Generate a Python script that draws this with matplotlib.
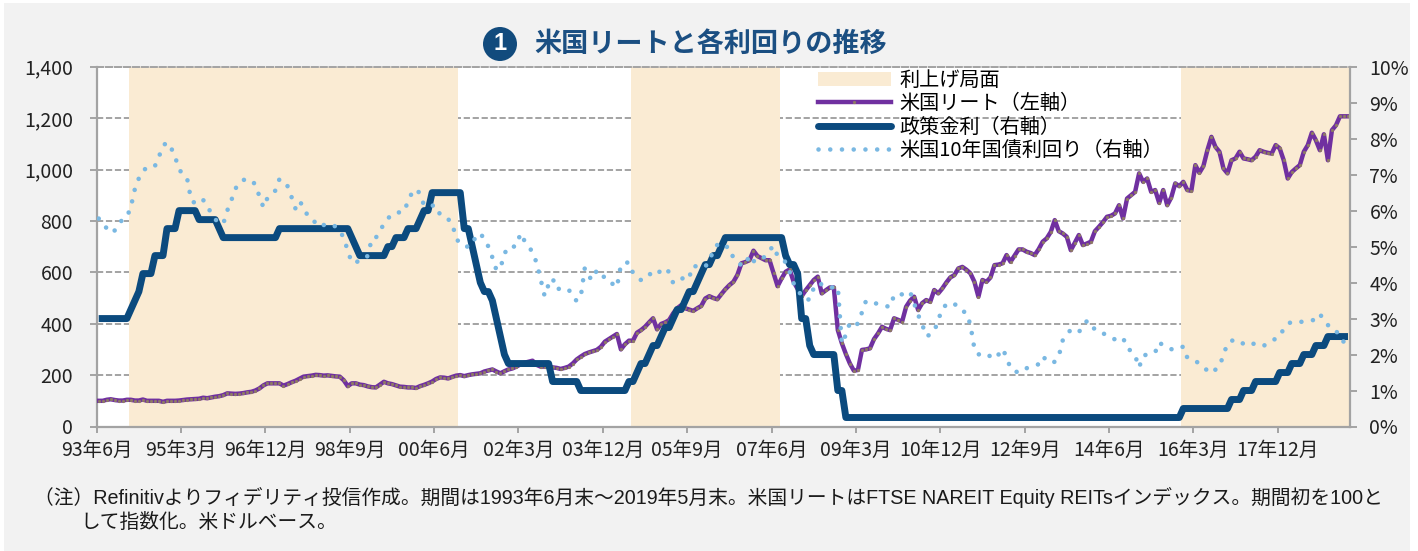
import numpy as np
import pandas as pd
import matplotlib
matplotlib.use("Agg")
import matplotlib.pyplot as plt
from matplotlib.patches import Rectangle, Ellipse, Patch
from matplotlib.lines import Line2D

plt.rcParams['font.family'] = ['Liberation Sans Narrow', 'Noto Sans CJK JP', 'DejaVu Sans']

# monthly data, 1993-06 .. 2019-05
months = pd.period_range("1993-06", "2019-05", freq="M")

# US REIT index (start = 100), left axis
reit_index = [
    100, 100, 104, 106, 103, 101, 101,                                  # 1993
    104, 104, 101, 101, 105, 100, 100, 100, 100, 96, 100, 100,          # 1994
    100, 101, 103, 105, 106, 107, 108, 112, 110, 113, 116, 118,         # 1995
    122, 129, 128, 127, 128, 130, 133, 135, 140, 148, 160, 168,         # 1996
    168, 168, 168, 159, 165, 172, 178, 186, 194, 196, 198, 201,         # 1997
    200, 198, 199, 197, 195, 194, 180, 157, 168, 168, 163, 161,         # 1998
    156, 153, 152, 163, 174, 168, 165, 160, 155, 154, 152, 152,         # 1999
    150, 157, 162, 168, 175, 185, 191, 190, 187, 193, 198, 200,         # 2000
    196, 200, 203, 205, 207, 214, 218, 222, 214, 207, 215, 222,         # 2001
    226, 233, 242, 248, 252, 256, 240, 233, 233, 233, 230, 228,         # 2002
    224, 228, 233, 245, 261, 272, 282, 288, 293, 298, 310, 330,         # 2003
    340, 350, 360, 300, 320, 334, 334, 365, 375, 388, 405, 421,         # 2004
    378, 399, 405, 414, 440, 460, 472, 460, 455, 450, 460, 469,         # 2005
    498, 507, 500, 495, 515, 534, 550, 563, 590, 635, 640, 647,         # 2006
    684, 663, 655, 647, 647, 596, 546, 576, 602, 611, 563, 535,         # 2007
    507, 530, 550, 570, 583, 518, 530, 541, 541, 375, 324, 282,         # 2008
    245, 217, 220, 298, 300, 304, 340, 362, 388, 380, 375, 421,         # 2009
    415, 408, 466, 490, 505, 453, 480, 492, 485, 531, 518, 537,         # 2010
    560, 580, 589, 615, 621, 610, 596, 563, 505, 570, 563, 580,         # 2011
    628, 630, 635, 667, 641, 665, 689, 689, 680, 675, 667, 690,         # 2012
    719, 732, 757, 803, 760, 751, 738, 686, 715, 745, 706, 712,         # 2013
    719, 760, 777, 795, 816, 820, 829, 861, 810, 887, 900, 913,         # 2014
    985, 952, 965, 913, 920, 870, 920, 861, 891, 946, 935, 952,         # 2015
    920, 917, 1017, 987, 1013, 1075, 1127, 1088, 1069, 1004, 985, 1036,  # 2016
    1043, 1069, 1043, 1040, 1036, 1050, 1075, 1069, 1065, 1062, 1095, 1082,  # 2017
    1036, 965, 990, 1004, 1017, 1069, 1095, 1143, 1114, 1075, 1137, 1036,   # 2018
    1153, 1172, 1207, 1207, 1207,                                        # 2019
]

# policy rate (%), right axis
policy_rate = (
    [3.00] * 7
    + [3.00, 3.25, 3.50, 3.75, 4.25, 4.25, 4.25, 4.75, 4.75, 4.75, 5.50, 5.50]
    + [5.50, 6.00, 6.00, 6.00, 6.00, 6.00, 5.75, 5.75, 5.75, 5.75, 5.75, 5.50]
    + [5.25] * 12
    + [5.25, 5.25] + [5.50] * 10
    + [5.50] * 8 + [5.25, 5.00, 4.75, 4.75]
    + [4.75] * 5 + [5.00, 5.00, 5.25, 5.25, 5.25, 5.50, 5.50]
    + [5.50, 5.75, 6.00, 6.00] + [6.50] * 8
    + [5.50, 5.50, 5.00, 4.50, 4.00, 3.75, 3.75, 3.50, 3.00, 2.50, 2.00, 1.75]
    + [1.75] * 10 + [1.25, 1.25]
    + [1.25] * 5 + [1.00] * 7
    + [1.00] * 5 + [1.25, 1.25, 1.50, 1.75, 1.75, 2.00, 2.25]
    + [2.25, 2.50, 2.75, 2.75, 3.00, 3.25, 3.25, 3.50, 3.75, 3.75, 4.00, 4.25]
    + [4.50, 4.50, 4.75, 4.75, 5.00] + [5.25] * 7
    + [5.25] * 8 + [4.75, 4.50, 4.50, 4.25]
    + [3.00, 3.00, 2.25, 2.00, 2.00, 2.00, 2.00, 2.00, 2.00, 1.00, 1.00, 0.25]
    + [0.25] * 72
    + [0.25] * 11 + [0.50]
    + [0.50] * 11 + [0.75]
    + [0.75, 0.75, 1.00, 1.00, 1.00, 1.25, 1.25, 1.25, 1.25, 1.25, 1.25, 1.50]
    + [1.50, 1.50, 1.75, 1.75, 1.75, 2.00, 2.00, 2.00, 2.25, 2.25, 2.25, 2.50]
    + [2.50] * 5
)

# US 10y treasury yield (%), right axis
ust10y = [
    5.78, 5.68, 5.50, 5.38, 5.45, 5.65, 5.75,
    5.82, 6.10, 6.60, 6.90, 7.10, 7.20, 7.25, 7.24, 7.50, 7.80, 7.90, 7.75,
    7.50, 7.15, 7.00, 6.90, 6.30, 6.20, 6.30, 6.30, 6.10, 5.95, 5.76, 5.65,
    5.63, 6.00, 6.28, 6.60, 6.79, 6.85, 6.88, 6.85, 6.72, 6.40, 6.09, 6.35,
    6.45, 6.56, 6.88, 6.80, 6.68, 6.38, 6.05, 6.26, 6.10, 5.86, 5.80, 5.65,
    5.55, 5.60, 5.62, 5.63, 5.55, 5.46, 5.23, 4.89, 4.55, 4.57, 4.60, 4.63,
    4.75, 5.23, 5.25, 5.41, 5.65, 5.78, 5.90, 5.95, 5.95, 5.97, 6.26, 6.50,
    6.60, 6.47, 6.14, 6.14, 6.14, 6.14, 5.88, 5.80, 5.76, 5.65, 5.21, 5.10,
    5.00, 5.00, 5.04, 5.34, 5.35, 5.23, 5.00, 4.70, 4.35, 4.40, 4.80, 5.00,
    4.99, 5.02, 5.37, 5.16, 5.00, 4.85, 4.55, 4.10, 3.63, 3.95, 4.12, 3.81,
    3.84, 3.85, 3.81, 3.60, 3.49, 3.60, 4.40, 4.16, 4.08, 4.35, 4.25, 4.13,
    4.10, 3.95, 3.87, 4.49, 4.55, 4.56, 4.27, 4.15, 4.07, 4.15, 4.25, 4.19,
    4.20, 4.37, 4.40, 4.29, 3.99, 4.00, 4.07, 4.21, 4.15, 4.47, 4.44, 4.40,
    4.45, 4.58, 4.90, 5.05, 5.10, 5.00, 4.98, 4.68, 4.60, 4.47, 4.50, 4.76,
    4.60, 4.57, 4.65, 4.74, 4.90, 5.02, 4.74, 4.65, 4.57, 4.30, 3.98, 3.84,
    3.60, 3.53, 3.53, 3.85, 3.99, 3.95, 3.90, 3.86, 3.87, 3.88, 2.30, 2.55,
    2.88, 2.80, 2.86, 3.17, 3.49, 3.46, 3.44, 3.40, 3.38, 3.35, 3.32, 3.65,
    3.70, 3.67, 3.74, 3.74, 3.42, 3.10, 2.84, 2.51, 2.55, 2.65, 2.95, 3.29,
    3.38, 3.45, 3.40, 3.35, 3.21, 3.16, 2.83, 2.16, 2.00, 2.05, 2.00, 1.95,
    1.88, 2.00, 2.16, 1.93, 1.61, 1.55, 1.49, 1.55, 1.62, 1.66, 1.70, 1.73,
    1.94, 1.85, 1.76, 1.80, 1.95, 2.40, 2.56, 2.69, 2.65, 2.62, 2.80, 2.93,
    2.74, 2.72, 2.70, 2.60, 2.51, 2.47, 2.42, 2.45, 2.47, 2.18, 2.10, 1.97,
    1.64, 1.97, 2.00, 2.03, 2.06, 2.34, 2.25, 2.21, 2.15, 2.13, 2.18, 2.22,
    1.91, 1.85, 1.82, 1.75, 1.66, 1.55, 1.48, 1.58, 1.67, 1.99, 2.31, 2.38,
    2.42, 2.35, 2.30, 2.24, 2.28, 2.32, 2.28, 2.24, 2.32, 2.38, 2.44, 2.50,
    2.72, 2.85, 2.91, 2.90, 2.91, 2.91, 2.93, 2.94, 3.00, 3.13, 2.95, 2.82,
    2.72, 2.68, 2.44, 2.35, 2.24,
]

# rate hike periods (first and last month shaded)
hike_periods = [("1994-02", "2000-11"), ("2004-07", "2007-07"), ("2015-12", "2019-05")]

tick_months = ["1993-06", "1995-03", "1996-12", "1998-09", "2000-06", "2002-03",
               "2003-12", "2005-09", "2007-06", "2009-03", "2010-12", "2012-09",
               "2014-06", "2016-03", "2017-12"]

assert len(reit_index) == len(months) == len(policy_rate) == len(ust10y)

SHADE = "#faebd3"
PURPLE = "#7030a0"
NAVY = "#0b4a7e"
SKY = "#7ab8e2"
GRAY = "#a3a3a3"
DOT = "#8f7d62"
JP = "Noto Sans CJK JP"

W, H = 1418, 551
fig = plt.figure(figsize=(W / 100, H / 100), dpi=100)
fig.patch.set_facecolor("white")
fig.patches.append(Rectangle((4 / W, 0), 1406 / W, 548 / H, transform=fig.transFigure,
                             facecolor="#f2f2f2", edgecolor="none", zorder=-10))

ax = fig.add_axes([96.7 / W, 1 - 426.5 / H, (1350 - 96.7) / W, 359.8 / H])
ax.set_facecolor("white")
ax2 = ax.twinx()

x = np.arange(len(months)) + 0.5

for start, end in hike_periods:
    i0 = months.get_loc(pd.Period(start, "M"))
    i1 = months.get_loc(pd.Period(end, "M")) + 1
    ax.axvspan(i0, i1, facecolor=SHADE, edgecolor="none", zorder=1)

ax.plot(x, reit_index, color=PURPLE, lw=3.2, marker="o", ms=2.0,
        mfc=DOT, mec=DOT, mew=0.3, zorder=3)

ax2.plot(x, policy_rate, color=NAVY, lw=5.0, solid_joinstyle="round",
         solid_capstyle="butt", zorder=3)
ax2.plot(x, ust10y, color=SKY, lw=3.3, linestyle=(0, (0.01, 2.55)),
         dash_capstyle="round", zorder=4)

# axes
ax.set_xlim(0, len(months))
ax.set_ylim(0, 1400)
ax2.set_ylim(0, 10)
ax.set_yticks(range(0, 1401, 200))
ax.set_yticklabels([f"{v:,}" for v in range(0, 1401, 200)])
ax2.set_yticks(range(0, 11))
ax2.set_yticklabels([f"{v}%" for v in range(0, 11)])

tick_pos = [months.get_loc(pd.Period(m, "M")) for m in tick_months]
ax.set_xticks(tick_pos)
ax.set_xticklabels([f"{pd.Period(m, 'M').year % 100:02d}年{pd.Period(m, 'M').month}月"
                    for m in tick_months])

ax.set_axisbelow(True)
ax.yaxis.grid(True, color=GRAY, lw=1.4, linestyle=(0, (3.2, 1.4)))
ax.xaxis.grid(False)

for s in ["left", "bottom"]:
    ax.spines[s].set_color(GRAY)
    ax.spines[s].set_linewidth(1.6)
ax.spines["right"].set_visible(False)
ax.spines["top"].set_color(GRAY)
ax.spines["top"].set_linewidth(1.4)
ax.spines["top"].set_linestyle((0, (3.2, 1.4)))
for s in ["left", "bottom", "top"]:
    ax2.spines[s].set_visible(False)
ax2.spines["right"].set_color(GRAY)
ax2.spines["right"].set_linewidth(1.6)

ax.tick_params(axis="y", length=5, width=1.4, color=GRAY, labelsize=14, pad=12,
               labelcolor="#222222")
ax.tick_params(axis="x", length=4, width=1.4, color=GRAY, labelsize=14, pad=6,
               labelcolor="#222222")
ax2.tick_params(axis="y", length=5, width=1.4, color=GRAY, labelsize=14, pad=9,
                labelcolor="#222222")

# legend
handles = [
    Patch(facecolor=SHADE, edgecolor="none"),
    Line2D([0], [0], color=PURPLE, lw=3.2, marker="o", ms=2.0, mfc=DOT,
           mec=DOT, mew=0.3),
    Line2D([0], [0], color=NAVY, lw=5.0, solid_capstyle="round"),
    Line2D([0], [0], color=SKY, lw=3.3, linestyle=(0, (0.01, 2.55)), dash_capstyle="round"),
]
labels = ["利上げ局面", "米国リート（左軸）", "政策金利（右軸）", "米国10年国債利回り（右軸）"]
ax.legend(handles, labels, loc="upper left", bbox_to_anchor=(818 / W, 1 - 70 / H),
          bbox_transform=fig.transFigure, frameon=False,
          handlelength=3.6, handletextpad=0.45, labelspacing=0.12, borderpad=0,
          borderaxespad=0, prop={"family": [JP], "size": 14.5})

# title
fig.patches.append(Ellipse((500 / W, 1 - 44 / H), 34 / W, 34 / H, transform=fig.transFigure,
                           facecolor="#124b7d", edgecolor="none"))
fig.text(500 / W, 1 - 44 / H, "1", color="white", fontsize=17, weight="bold",
         ha="center", va="center", family=["Liberation Sans", JP])
fig.text(534 / W, 1 - 44 / H, "米国リートと各利回りの推移", color="#1b4f82", fontsize=19.5,
         weight="bold", ha="left", va="center", family=[JP])

# footnote
fig.text(34 / W, 1 - 497 / H,
         "（注）Refinitivよりフィデリティ投信作成。期間は1993年6月末～2019年5月末。"
         "米国リートはFTSE NAREIT Equity REITsインデックス。期間初を100と",
         fontsize=14.2, ha="left", va="center", color="#1a1a1a", family=["Liberation Sans", JP])
fig.text(80 / W, 1 - 522 / H, "して指数化。米ドルベース。",
         fontsize=14.2, ha="left", va="center", color="#1a1a1a", family=["Liberation Sans", JP])

fig.savefig("out.png", dpi=100)
